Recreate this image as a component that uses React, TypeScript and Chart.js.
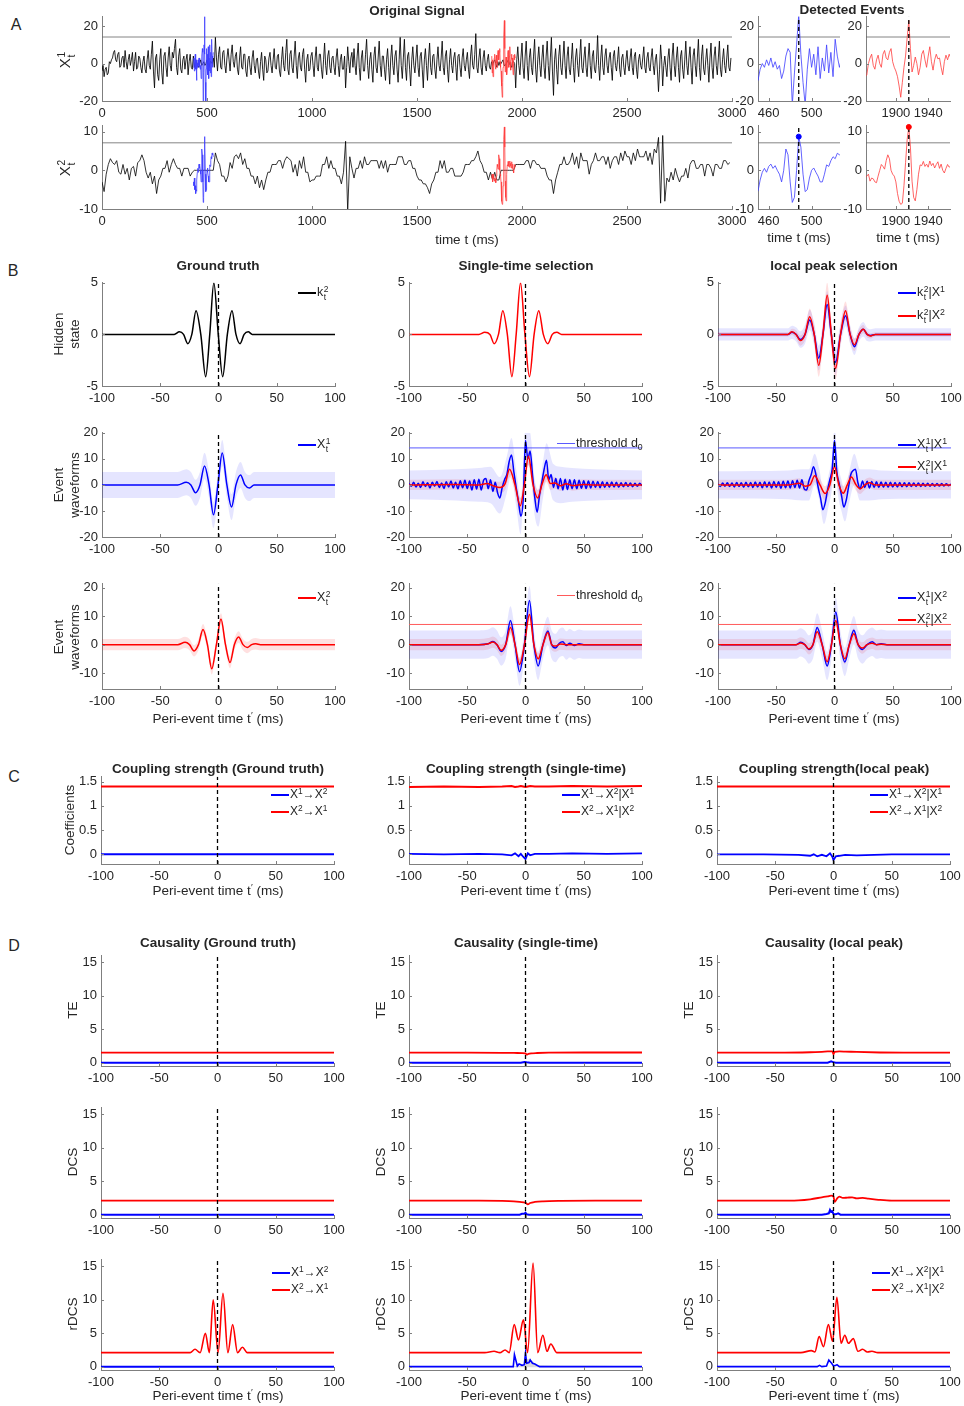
import React, { useEffect, useRef } from 'react';
import { Chart, registerables } from 'chart.js';
Chart.register(...registerables);

const FONT = '"Liberation Sans", Arial, Helvetica, sans-serif';
const AXIS = '#7f7f7f';
const TXT = '#262626';
const BLUE = '#0000ff';
const RED = '#ff0000';
const BLUE_A = '#3c3cff';
const RED_A = '#ff3c3c';
const BLUE_BAND = 'rgba(0,0,255,0.10)';
const RED_BAND = 'rgba(255,0,0,0.12)';
const TITLE_SIZE = 13.5;
const LABEL_SIZE = 13.5;
const TICK_SIZE = 13;

// ---------------- Panel A data ----------------
const sigT1 = Array.from({ length: 600 }, (_, i) => i * 5);
const x1Signal = [
  -4, -1, -7, -3, -2, -6, -5, 1, 0, 2, 3, 6, 7, 2, 1, 5, 6, -2, -1, 3,
  4, -2, 7, 1, -3, 2, 5, -1, 2, 6, -4, 1, 6, -3, -2, 4, 3, -2, -5, 1,
  4, -3, -5, 2, 7, -1, -3, 5, 12, -4, -13, 3, 5, -6, -9, 2, 8, -5, -11, 4,
  6, -2, -7, 3, 9, -1, -4, 6, 3, 8, 13, -2, -6, 4, 8, -3, -5, 2, 4, -3,
  2, 5, -6, 1, 5, -2, -3, 4, -2, 1, 1, -1, -2, 0, 2, -1, 0, 1, -1, 0,
  2, -1, -2, 1, 1, 0, 3, -2, 14, 3, -4, 5, 9, -2, -3, 6, 7, -1, -5, 3,
  8, 2, -4, 5, 10, 1, -2, 4, 6, -3, -6, 3, 9, -2, -3, 5, 5, -4, -7, 2,
  4, -2, -6, 3, 7, -1, -5, 2, 3, -4, -8, 1, 6, -3, -9, 4, 2, -5, -4, 3,
  6, -1, -5, 2, 8, -2, -3, 4, 5, -4, -7, 2, 9, -1, -4, 6, 13, -3, -6, 5,
  7, -2, -5, 4, 12, -1, -8, 3, 6, -2, -4, 5, 8, -3, -10, 2, 5, -4, -3, 4,
  6, -1, -7, 3, 9, -2, -4, 5, 5, -3, -8, 2, 11, -1, -6, 4, 7, -2, -5, 3,
  4, -2, -6, 3, 8, -1, -7, 2, 5, -3, -3, 4, -13, -2, 9, 1, -5, 3, 6, -2,
  8, -1, -6, 4, 11, -2, -9, 3, 7, -4, -4, 5, 13, -1, -8, 2, 6, -3, -10, 4,
  9, -2, -5, 3, 12, -1, -7, 4, 4, -3, -9, 2, 8, -2, -11, 3, 10, -1, -6, 4,
  7, -3, -10, 2, 14, -1, -8, 3, 13, -2, -9, 4, 6, -3, -12, 2, 9, -1, -5, 3,
  10, -2, -7, 4, 6, -3, -13, 2, 8, -1, -9, 3, 11, -2, -6, 4, 5, -3, -8, 2,
  9, -1, -4, 3, 12, -2, -6, 4, 7, -3, -10, 2, 8, -1, -5, 3, 6, -2, -9, 4,
  5, -2, -7, 3, 8, -1, -4, 2, 6, -3, -8, 4, 10, -1, -3, 5, 16, -2, -5, 3,
  8, -2, -6, 3, 7, -1, -4, 2, 5, -2, -3, 1, -1, 1, 2, 0, -2, 1, -1, 1,
  0, 1, 2, -1, -1, 0, 1, 2, 0, -1, -2, 1, 1, 0, -13, 2, 9, -1, -6, 3,
  11, -2, -8, 4, 12, -1, -9, 3, 8, -2, -6, 4, 13, -3, -10, 2, 9, -1, -7, 3,
  10, -2, -8, 4, 12, -1, -9, 3, 14, -4, -17, 2, 8, -3, -11, 4, 10, -2, -6, 3,
  12, -1, -8, 4, 9, -3, -6, 2, 11, -2, -10, 3, 8, -1, -7, 4, 13, -2, -5, 3,
  9, -2, -7, 3, 11, -1, -8, 4, 7, -3, -5, 2, 15, -1, -9, 3, 10, -2, -6, 4,
  8, -1, -5, 3, 6, -2, -9, 4, 7, -1, -4, 2, 9, -3, -7, 3, 5, -2, -6, 2,
  7, -1, -4, 3, 8, -2, -6, 4, 6, -3, -8, 2, 5, -1, -3, 3, 9, -2, -5, 3,
  6, -2, -4, 3, 8, -1, -6, 2, 5, -4, -15, -3, 10, 2, -12, -1, 4, -2, -7, 3,
  8, -2, -9, 4, 11, -1, -7, 3, 9, -2, -10, 4, 7, -3, -8, 2, 12, -1, -6, 3,
  9, -2, -11, 4, 8, -1, -7, 3, 13, -2, -9, 4, 10, -3, -6, 2, 8, -1, -10, 3,
  11, -2, -8, 4, 9, -1, -6, 3, 12, -3, -7, 2, 8, -1, -5, 3, 10, -2, -4, 3,
];
const sigT2 = Array.from({ length: 300 }, (_, i) => i * 10);
const x2Signal = [
  -3, -5.5, -1, 1.5, 3, 2, 1.5, 2.5, -0.5, -1, 1.5, -1, 0.5, -2.5, 0.5, 1, -1.5, 2, 2.5, 4,
  2.5, -0.5, -2, -0.5, -3.5, -1.5, -6, -2.5, -1.5, 0.5, 0.5, 2.5, -0.5, 1.5, 3, 1.5, 0.5, 0.5, -1.5, 0.5,
  0.5, 0.5, -1.5, -0.5, 0, 0, 0, 0, 0, 0, 0, 0, 0, 0, 4.5, 2.5, 1.5, -1.5, -1.5, -3,
  -1.5, 2, 0.5, 3.5, 4, 3, 4.5, 1.5, 3, 0.5, 0.5, -1.5, -1.5, -3.5, -1.5, -4.5, -2.5, -5, -2.5, -0.5,
  -0.5, 1.5, 1.5, 1.5, 2.5, 2.5, 0.5, 2.5, 3.5, 3, 2.5, -0.5, 1.5, -1.5, 2.5, 0.5, 3.5, -0.5, -0.5, -3,
  -2.5, -2.5, -1.5, -1.5, -1.5, 1.5, 1.5, 3.5, 0.5, 2.5, 0.5, 0.5, -1.5, -1.5, -3.5, -0.5, 7.5, -10.5, 3.5, 0.5,
  -2, 0.5, 0.5, 2.5, 0.5, 3.5, 1.5, 1.5, 2.5, 2.5, 2.5, 2.5, 0.5, 2.5, 0.5, 2.5, -0.5, 1.5, 1.5, 1.5,
  1.5, 3.5, 3.5, 3.5, 1.5, 1.5, 2.5, 2.5, 0.5, 0.5, -1.5, -2.5, -2.5, -3.5, -3.5, -4.5, -6, -3.5, -2.5, -0.5,
  -0.5, 2.5, 0.5, 2.5, -0.5, -0.5, 0.5, 0.5, -1.5, -1.5, -1.5, -1.5, -0.5, 1.5, 1.5, 1.5, 2.5, 2.5, 3.5, 5,
  2.5, 1.5, -0.5, -0.5, -2.5, -0.5, -2.5, -0.5, -2.5, -2.5, 0, 0, 0, 0, 0, 0, 0, 1.5, 1.5, 1.5,
  1.5, 1.5, 2.5, 2.5, 0.5, 2.5, 2.5, 1.5, 1.5, 0.5, 0.5, 0.5, -1.5, -2.5, -2.5, -6, -2.5, -0.5, 1.5, 1.5,
  3.5, 1.5, 1.5, 2.5, 4.5, 1.5, 3.5, 0.5, 4.5, 2.5, 2.5, 2.5, -1, 1.5, 2.5, 4.5, 2.5, 2.5, 3.5, 3.5,
  1.5, 3.5, 0.5, 2.5, 3.5, 3.5, 1.5, 4.5, 2.5, 5, 3.5, 3.5, 1.5, 4.5, 2.5, 5.5, 3.5, 3.5, 3.5, 5,
  2.5, 4.5, 1.5, 5.5, 4.5, 8.5, -8.5, 9, -8, -2, -3, -0.5, -2.5, 0.5, -1.5, -3, -1.5, -1.5, 0.5, -2,
  1.5, 2.5, 2.5, 0.5, 0.5, 1.5, 1.5, -1.5, 1.5, 1.5, 0.5, -1.5, 1.5, 1.5, 0.5, 0.5, 2.5, 2.5, 1.5, 2,
];
const blueEvT = Array.from({ length: 48 }, (_, i) => 436 + 2 * i);
const blueX1 = [-2, 3, -4, 1, 5, -3, 2, -9, -3, 0, -2, 2, -1, 3, -2, 1, -3, -1, -8, -4, 4, 8, 6, -22, -5, 10, 26, 5, -10, -22, -3, 8, -2, 5, -6, 9, -8, 3, -4, 10, -5, 6, -7, 13, 4, -2, 3, 6];
const blueX2 = [-3, -4, -2, -5, -4, -6, -5, -5.4, -2.5, -0.5, 0.5, -0.5, 1, 1.6, 0.5, 1.2, 0, -1, -3, 0, 5.5, 4, -3, -8.3, -7, 0, 8.7, 6, -1, -5.5, -5, -2, 0, 0.6, -0.5, -1.5, -3, -3, -1, 1.4, 1, 2.5, 3.5, 3, 4.4, 4, 4.5, 3.5];
const redEvT = Array.from({ length: 57 }, (_, i) => 1856 + 2 * i);
const redX1 = [4, -5, 2, -7, -6, 0, 3, 5, -1, -3, 2, 4.5, 0, -2, 5, 7, 3, 2, 6, 8, 1, -2, -4, -7, -12, -18, -10, -2, 4, 14, 23, 8, -4.5, -1, 3.5, 0, -6, -2, 5, 7, 2, -2, 4, 9, 1, -3.5, 2, 5, 2.5, 3, -2, -6, 1, 4.5, 2, 5, 3];
const redX2 = [-2, -1, -3, -2, -1.5, -1, -2.8, -2, -2.2, -3, -3.2, -1.5, 0, 1.5, 1, 0.3, 2.5, 4, 3, 0, -1, -1.5, -3, -6, -8, -8.8, -8.5, -4, 2, 8, 11.2, 6, -2.8, -7, -7.9, -5, -1, 1.4, 1.2, 2.3, 1, 1.6, 0.8, 2.4, 1.2, 1.8, 0.6, 1.5, 2.2, 0.5, 1.6, 0, -0.7, 0.5, 1.5, 0.8, 1.2];
const eventTimes = [488, 1916];
const eventPeaksX2 = [8.7, 11.2];
const thrX1 = 14.2;
const thrX2 = 7.1;

// ---------------- Panel B data ----------------
const periTicks = [-100, -50, 0, 50, 100];
const grid2 = Array.from({ length: 101 }, (_, i) => -100 + 2 * i);

const gtHidT = [-100, -38, -33.6, -30, -26.4, -22.9, -19.3, -15.2, -11, -7.5, -4, -0.2, 3.6, 7.6, 11.6, 15, 18.5, 22, 25.5, 29, 33, 100];
const gtHidY = [0, 0, 0.25, 0, -0.9, 0, 2.3, 0, -4.1, 0, 5, 0, -4.1, 0, 2.3, 0, -0.9, 0, 0.25, 0, 0, 0];

const stHidT = [-100, -40, -35, -30.5, -26.9, -23.2, -19.5, -15.6, -11.7, -8, -4.3, -0.5, 3.4, 7.4, 11.4, 15.3, 19.2, 23, 26.9, 31, 35, 100];
const stHidY = [0, 0, 0.2, 0, -0.9, 0, 2.3, 0, -4.1, 0, 5, 0, -4.1, 0, 2.3, 0, -0.9, 0, 0.2, 0, 0, 0];

const lpHidT = [-100, -40, -36.5, -33, -29.3, -25.3, -21.3, -17.4, -13.5, -9.9, -6.3, -2.7, 0.9, 5.2, 9.5, 13.4, 17.2, 21, 24.7, 28, 31, 35, 100];
const lpHid1Y = [0, 0, 0.2, 0, -0.5, 0, 1.4, 0, -2.3, 0, 2.9, 0, -2.7, 0, 1.8, 0, -1.2, 0, 0.5, 0, -0.1, 0, 0];
const lpHid2Y = [0, 0, 0.25, 0, -0.6, 0, 1.7, 0, -3.0, 0, 3.8, 0, -3.3, 0, 2.3, 0, -1.0, 0, 0.5, 0, -0.15, 0, 0];
const lpHid1Sd = [0.6, 0.6, 0.65, 0.7, 0.8, 0.9, 1, 1.1, 1.2, 1.2, 1.3, 1.2, 1.2, 1.1, 1, 0.9, 0.8, 0.7, 0.7, 0.65, 0.6, 0.6, 0.6];
const lpHid2Sd = [0.2, 0.2, 0.3, 0.4, 0.5, 0.6, 0.8, 0.9, 1.1, 1.1, 1.2, 1.1, 1.1, 1, 0.9, 0.8, 0.6, 0.5, 0.4, 0.3, 0.25, 0.2, 0.2];

const gtX1T = [-100, -35, -27.7, -23.7, -19.7, -15.9, -12, -8.1, -4.3, -0.5, 3.2, 7.2, 11.2, 15, 18.9, 22.7, 26.6, 30.5, 35, 100];
const gtX1Y = [0, 0, 1, 0, -3, 0, 7.3, 0, -11.5, 0, 12.2, 0, -8.5, 0, 3.8, 0, -1.2, 0, 0, 0];
const gtX1Sd = 5;

const stX1Y = [
  0.5, -0.5, 1, -0.8, 0.6, -1, 1.2, -0.6, 0.8, -1.2, 1, -0.5, 1.3, -1, 0.7, -1.4, 1.2, -0.8, 1.5, -1.2,
  1, -1.5, 1.6, -1.1, 1.8, -1.4, 1.5, -2, 2, -1.6,
  2.2, -2, 1.8, 2.5, -1.5, 2, -2.5, 1, -3, -5, -1, 2, 4, 9, 11.5, 5, -1, -6.5, -12, -6,
  17, 10, 13, 4, -5, -10.5, -4, 1, 6, 9.5, 2, 4, -1, 2.5, -1.5, 2.5, -2, 2.2, -1.8, 2,
  -1.5, 2, -1.5, 1.8, -1.3, 1.6, -1.4, 1.5, -1.2, 1.4, -1, 1.3, -1.1, 1.2, -1, 1, -0.9, 1.1, -0.8, 1,
  -0.9, 0.8, -0.7, 0.9, -0.6, 0.7, -0.7, 0.6, -0.5, 0.6, -0.3,
];
const stX1BandT = [-100, -60, -40, -30, -22, -16, -12, -8, -4, 0, 4, 8, 11, 15, 18, 24, 30, 40, 60, 100];
const stX1BandMid = [0, 0, 0, 0, -4, 4, 11, -1, -12, 15, 13, -5, -9, 2, 9, 1, 0, 0, 0, 0];
const stX1BandSd = [5.5, 6, 6.5, 7, 7, 7, 7, 7, 7, 7, 7, 7, 7, 7, 7, 7, 7, 6.5, 6, 5.5];
const stX2T = [-100, -60, -40, -33, -28, -22, -17.5, -13.7, -9, -4.5, -1, 2.5, 6.5, 10.5, 14, 17.7, 21.5, 25, 30, 35, 40, 50, 60, 100];
const stX2Y = [0, 0.2, 0, 0.5, -0.3, -1, 0.5, 6, 0, -8, 0, 11, 0, -5, 0, 3.9, 0.5, 0.7, -0.3, 0.4, -0.2, 0.2, 0, 0];
const stX2Sd = [2, 2, 2, 2, 2, 2.2, 2.5, 3, 3, 3, 3, 3.5, 3.5, 3, 3, 2.8, 2.5, 2.2, 2, 2, 2, 2, 2, 2];

const lpX1Y = [
  0.3, -0.6, 0.7, -0.5, 0.8, -0.6, 0.7, -0.8, 0.9, -0.6, 0.8, -0.9, 1, -0.7, 0.9, -1, 1.1, -0.8, 1, -1.1,
  1.2, -0.9, 1.1, -1.2, 1.3, -1, 1.2, -1.3, 1.4, -1.1,
  1.5, -1.2, 1.6, -1, 1.8, -1.2, 2, -1.5, -2, 1.5, 4, 7, 4, -1, -5, -9.5, -7, -2, 2, 6,
  17, 5, 0.5, -4, -8.5, -6, -1, 4, 5.5, 6, 1, -1.5, 1.5, -1, 1.4, -1.2, 1.3, -1, 1.2, -1,
  1.1, -0.9, 1, -0.9, 1, -0.8, 0.9, -0.8, 0.9, -0.7, 0.8, -0.7, 0.8, -0.6, 0.7, -0.6, 0.7, -0.6, 0.6, -0.5,
  0.6, -0.5, 0.5, -0.5, 0.5, -0.4, 0.5, -0.4, 0.4, -0.3, 0.3,
];
const lpX1BandT = [-100, -40, -28, -22, -17, -13, -9, -5, -2, 0, 3, 6, 9, 13, 17, 22, 30, 40, 100];
const lpX1BandMid = [0, 0, 0, 0, 6, 0, -9, -2, 5, 16, 2, -4, -8, 0, 6, 0, 0, 0, 0];
const lpX1BandSd = [5.2, 5.5, 6, 6, 6, 6, 6, 6, 6, 6, 6, 6, 6, 6, 6, 6, 6, 5.5, 5.2];
const lpX2T = [-100, -40, -30, -25, -21, -17, -12.5, -8, -4, 0, 3.8, 7.5, 11, 14.5, 18.5, 22, 26, 30, 35, 100];
const lpX2Y = [0, 0, 0.6, -0.5, 0, 3.5, 0, -3.3, 0, 7, 0, -3.2, 0, 3, 0, -1.5, 0, 0.8, 0, 0];
const lpX2Sd = [2, 2, 2, 2, 2.2, 2.5, 2.5, 2.8, 2.8, 3, 2.8, 2.8, 2.5, 2.5, 2.2, 2, 2, 2, 2, 2];

const gtX2T = [-100, -35, -28.7, -24.9, -21, -17.2, -13.3, -9.5, -5.8, -1.8, 2.1, 6, 9.9, 13.6, 17.3, 21, 24.7, 28.4, 32, 36, 100];
const gtX2Y = [0, 0, 0.8, 0, -2.2, 0, 5.3, 0, -8.5, 0, 9, 0, -6.3, 0, 2.7, 0, -1, 0, 0.3, 0, 0];
const gtX2Sd = 2;

const stB3X1T = [-100, -40, -32, -28, -24.5, -20.9, -17, -12.9, -9, -5.1, -0.9, 3.4, 7.2, 10.9, 15, 19.2, 22.5, 25.7, 29, 32, 35, 38, 42, 46, 50, 100];
const stB3X1Y = [0, 0, 0.3, 1.1, 0, -2.4, 0, 8.5, 0, -9.5, 0, 15.5, 0, -7.5, 0, 4.8, 0, -1.2, 0.5, 1, -0.3, 0.5, -0.3, 0.3, 0, 0];
const stB3X2T = [-100, -40, -32, -28, -24.5, -20.9, -17, -12.9, -9, -5.1, -0.9, 3.4, 7.2, 10.9, 15, 19.2, 22.5, 25.7, 30, 35, 100];
const stB3X2Y = [0, 0, 0.3, 0.9, 0, -2, 0, 6, 0, -7, 0, 10.6, 0, -5, 0, 4.3, 0, -0.5, 0.2, 0, 0];
const b3X1Sd = 5;
const b3X2Sd = 2;

const lpB3T = [-100, -40, -33, -29, -25.5, -22, -18.5, -14.9, -10.6, -6.3, -2.6, 1.1, 5, 8.9, 12.7, 16.6, 20.3, 24, 28, 32.4, 36, 40, 45, 100];
const lpB3X1Y = [0, 0, 0, 0.8, 0, -1.7, 0, 6, 0, -7.5, 0, 11.5, 0, -6.1, 0, 5.1, 0, -1.7, 0, 1, 0, 0.3, 0, 0];
const lpB3X2Y = [0, 0, 0, 0.6, 0, -1.5, 0, 4.5, 0, -6, 0, 8.5, 0, -5, 0, 3.8, 0, -1.2, 0, 0.5, 0, 0.1, 0, 0];

// ---------------- Panel C data ----------------
const flatT = [-100, 100];
const cGtX12 = [0, 0];
const cGtX21 = [1.4, 1.4];
const cStT = [-100, -70, -40, -20, -12, -9, -6, -4, -2, 0, 2, 4, 8, 20, 40, 70, 100];
const cStX12 = [0.01, 0, 0.01, 0, -0.02, 0.02, -0.04, 0.01, -0.05, -0.1, 0.02, -0.02, 0.01, 0.01, 0.02, 0.01, 0.02];
const cStX21 = [1.39, 1.4, 1.39, 1.4, 1.41, 1.39, 1.4, 1.41, 1.4, 1.39, 1.4, 1.41, 1.4, 1.4, 1.41, 1.4, 1.41];
const cLpT = [-100, -60, -30, -20, -17, -14, -10, -6, -3, -1, 0, 2, 5, 10, 20, 50, 100];
const cLpX12 = [0, 0, -0.01, -0.03, 0, -0.04, -0.01, -0.04, 0.02, -0.05, -0.12, -0.04, -0.03, -0.01, -0.02, 0, 0];
const cLpX21 = [1.4, 1.4, 1.4, 1.4, 1.4, 1.4, 1.4, 1.4, 1.4, 1.4, 1.4, 1.4, 1.4, 1.4, 1.4, 1.4, 1.4];

// ---------------- Panel D data ----------------
const teGtX12 = [0, 0];
const teGtX21 = [1.5, 1.5];
const teStT = [-100, -50, -20, -10, -3, 0, 1, 2.5, 5, 10, 20, 50, 100];
const teStX21 = [1.5, 1.5, 1.48, 1.46, 1.43, 1.4, 1.2, 1.32, 1.4, 1.45, 1.5, 1.52, 1.52];
const teStBT = [-100, -4, -1, 1, 4, 100];
const teStX12 = [0, 0, 0.1, 0.05, 0, 0];
const teLpT = [-100, -50, -20, -10, -5, -1, 0, 1, 5, 10, 20, 40, 60, 100];
const teLpX21 = [1.5, 1.5, 1.56, 1.63, 1.68, 1.7, 1.25, 1.62, 1.68, 1.66, 1.6, 1.52, 1.5, 1.5];
const teLpBT = [-100, -5, -2, 0, 2, 100];
const teLpX12 = [0, 0, 0.2, 0.05, 0, 0];

const dcsGtX12 = [0, 0];
const dcsGtX21 = [2.1, 2.1];
const dcsStT = [-100, -40, -20, -10, -5, 0, 2, 4, 8, 15, 30, 60, 100];
const dcsStX21 = [2.1, 2.1, 2.05, 1.98, 1.9, 1.78, 1.55, 1.75, 1.9, 2, 2.07, 2.1, 2.1];
const dcsStBT = [-100, -5, -3, -1, 0, 1, 3, 100];
const dcsStX12 = [0, 0, 0.12, 0.15, 0.3, 0.05, 0, 0];
const dcsLpT = [-100, -50, -30, -20, -10, -5, -2, 0, 1, 3, 5, 8, 12, 16, 20, 25, 30, 35, 40, 50, 60, 100];
const dcsLpX21 = [2.1, 2.1, 2.15, 2.3, 2.6, 2.75, 2.85, 2.7, 1.9, 2.4, 2.7, 2.5, 2.55, 2.6, 2.45, 2.5, 2.4, 2.3, 2.2, 2.1, 2.1, 2.1];
const dcsLpBT = [-100, -10, -6, -4, -3, -2, -1, 0, 2, 4, 6, 100];
const dcsLpX12 = [0, 0, 0.1, 0.2, 0.7, 0.4, 0.5, 0.1, 0.05, 0.2, 0, 0];

const rdGtT = [-100, -30, -23.5, -19.3, -14.9, -10.4, -7, -3.7, 0.5, 4.7, 8.9, 13, 17.2, 21.4, 25.5, 30, 100];
const rdGtX21 = [2.1, 2.1, 2.1, 2.6, 2.1, 5, 2.1, 10, 2.1, 11, 2.1, 6.3, 2.1, 2.9, 2.1, 2.1, 2.1];
const rdGtX12 = [0, 0];
const rdStT = [-100, -35, -27, -22, -17.5, -14, -9.7, -6, -1.8, 1.8, 6.5, 10.5, 14.9, 18.5, 21.7, 27, 35, 100];
const rdStX21 = [2.1, 2.1, 2.3, 2.1, 2.5, 2.1, 6.3, 4, 7, 2.1, 15.5, 2.1, 4.7, 2.3, 3.4, 2.1, 2.1, 2.1];
const rdStBT = [-100, -14, -10.5, -9.5, -7, -5.5, -3, -1, 0, 1, 3, 4, 6, 8, 12, 100];
const rdStX12 = [0, 0, 0, 1.8, 0.1, 0.4, 0.2, 0.3, 2, 0.5, 0.6, 1, 0.5, 0.4, 0, 0];
const rdStGrayT = [-100, -4, -1, 1, 3, 6, 10, 100];
const rdStGrayUp = [0.1, 0.1, 0.6, 1.2, 1.1, 0.8, 0.2, 0.1];
const rdStGrayLo = [-0.1, -0.1, -0.1, -0.1, -0.1, -0.1, -0.1, -0.1];
const rdLpT = [-100, -28, -19, -16, -12.3, -8.6, -4.4, -0.8, 2.9, 6.5, 9.7, 12.8, 17, 21, 25, 29, 33, 38, 100];
const rdLpX21 = [2.1, 2.1, 2.4, 2.2, 4.5, 3, 6.3, 3.8, 10.4, 3.5, 4.7, 3.5, 4.2, 2.3, 2.6, 2.2, 2.3, 2.1, 2.1];
const rdLpBT = [-100, -14, -12, -10, -6, -4, -2, 0, 2, 3, 5, 100];
const rdLpX12 = [0, 0, 0.2, 0, 0.1, 1, 0.6, 0.1, 0.2, 0.3, 0, 0];

const dTicks = [0, 5, 10, 15];

// ---------------- helpers ----------------
const P = (xs: number[], ys: number[]) => xs.map((x, i) => ({ x, y: ys[i] }));
const sdAt = (sd: number | number[], i: number) => (Array.isArray(sd) ? sd[i] : sd);
const line = (data: any[], color: string, width: number, extra: any = {}) => ({
  data, borderColor: color, borderWidth: width, pointRadius: 0, fill: false, tension: 0, order: 1, ...extra,
});
const smooth = (data: any[], color: string, width: number, extra: any = {}) =>
  line(data, color, width, { cubicInterpolationMode: 'monotone', ...extra });
const band = (xs: number[], ys: number[], sd: number | number[], color: string) => [
  { data: P(xs, ys.map((v, i) => v + sdAt(sd, i))), borderWidth: 0, borderColor: 'rgba(0,0,0,0)', backgroundColor: color, pointRadius: 0, fill: '+1', cubicInterpolationMode: 'monotone', order: 10 },
  { data: P(xs, ys.map((v, i) => v - sdAt(sd, i))), borderWidth: 0, borderColor: 'rgba(0,0,0,0)', pointRadius: 0, fill: false, cubicInterpolationMode: 'monotone', order: 10 },
];
const dash = (x: number, y0: number, y1: number) => line(P([x, x], [y0, y1]), '#000', 1.3, { borderDash: [4, 3], order: 0 });
const hline = (y: number, x0: number, x1: number, color: string, w: number) => line(P([x0, x1], [y, y]), color, w, { order: 5 });
const dot = (x: number, y: number, color: string) => ({
  data: [{ x, y }], showLine: false, pointRadius: 2.5, pointBackgroundColor: color, pointBorderColor: color, order: 0, clip: false,
});

const innerTicks = {
  id: 'innerTicks',
  afterDraw(chart: any) {
    const { ctx, chartArea, scales } = chart;
    ctx.save();
    ctx.strokeStyle = AXIS;
    ctx.lineWidth = 1;
    for (const t of scales.x.ticks) {
      const px = Math.round(scales.x.getPixelForValue(t.value)) + 0.5;
      ctx.beginPath(); ctx.moveTo(px, chartArea.bottom); ctx.lineTo(px, chartArea.bottom - 3); ctx.stroke();
    }
    for (const t of scales.y.ticks) {
      const py = Math.round(scales.y.getPixelForValue(t.value)) + 0.5;
      ctx.beginPath(); ctx.moveTo(chartArea.left, py); ctx.lineTo(chartArea.left + 3, py); ctx.stroke();
    }
    ctx.restore();
  },
};

const PL = 46, PT = 10, PR = 24, PB = 26;
type Cfg = { x: number; y: number; w: number; h: number; xr: number[]; yr: number[]; xt: number[]; yt: number[]; ds: () => any[] };

function Plot({ c }: { c: Cfg }) {
  const ref = useRef<HTMLCanvasElement>(null);
  useEffect(() => {
    const tickFont = { family: FONT, size: TICK_SIZE };
    const chart = new Chart(ref.current as HTMLCanvasElement, {
      type: 'line',
      data: { datasets: c.ds() },
      options: {
        animation: false,
        responsive: false,
        devicePixelRatio: 1,
        events: [],
        layout: { padding: { left: 0, top: PT, right: PR, bottom: 0 } },
        plugins: { legend: { display: false }, tooltip: { enabled: false } },
        scales: {
          x: {
            type: 'linear', min: c.xr[0], max: c.xr[1],
            grid: { display: false, drawTicks: false }, border: { display: true, color: AXIS, width: 1 },
            ticks: { font: tickFont, color: TXT, padding: 5, maxRotation: 0, autoSkip: false, callback: (v: any) => String(v) },
            afterBuildTicks: (s: any) => { s.ticks = c.xt.map((v) => ({ value: v })); },
            afterFit: (s: any) => { s.height = PB; },
          },
          y: {
            type: 'linear', min: c.yr[0], max: c.yr[1],
            grid: { display: false, drawTicks: false }, border: { display: true, color: AXIS, width: 1 },
            ticks: { font: tickFont, color: TXT, padding: 4, autoSkip: false, callback: (v: any) => String(v) },
            afterBuildTicks: (s: any) => { s.ticks = c.yt.map((v) => ({ value: v })); },
            afterFit: (s: any) => { s.width = PL; },
          },
        },
      } as any,
      plugins: [innerTicks],
    });
    return () => chart.destroy();
  }, []);
  const W = c.w + PL + PR, H = c.h + PT + PB;
  return <canvas ref={ref} width={W} height={H} style={{ position: 'absolute', left: c.x - PL, top: c.y - PT, width: W, height: H }} />;
}

// ---------------- text helpers ----------------
function Tx({ x, y, size = LABEL_SIZE, bold = false, anchor = 'middle', rotate = false, children }: any) {
  const tx = anchor === 'middle' ? '-50%' : anchor === 'end' ? '-100%' : '0';
  return (
    <div style={{
      position: 'absolute', left: x, top: y,
      transform: rotate ? 'translate(-50%,-50%) rotate(-90deg)' : `translate(${tx},-50%)`,
      fontFamily: FONT, fontSize: size, fontWeight: bold ? 'bold' : 'normal', color: TXT,
      whiteSpace: 'nowrap', lineHeight: 1.15, textAlign: 'center',
    }}>{children}</div>
  );
}
const Sup = ({ c }: any) => <span style={{ fontSize: '0.7em', position: 'relative', top: '-0.5em' }}>{c}</span>;
const Sub = ({ c }: any) => <span style={{ fontSize: '0.7em', position: 'relative', top: '0.3em' }}>{c}</span>;
const SS = ({ sup, sub }: any) => (
  <span style={{ display: 'inline-flex', flexDirection: 'column', fontSize: '0.68em', lineHeight: '0.95em', verticalAlign: '0.45em', marginLeft: '0.06em', textAlign: 'left' }}>
    <span>{sup}</span><span>{sub}</span>
  </span>
);
function Leg({ x, y, dy = 22, size = 12.5, items }: any) {
  return (
    <>
      {items.map((it: any, i: number) => (
        <React.Fragment key={i}>
          <div style={{ position: 'absolute', left: x, top: y + i * dy - it.w / 2, width: 18, height: it.w, background: it.color }} />
          <Tx x={x + 19} y={y + i * dy} size={size} anchor="start">{it.label}</Tx>
        </React.Fragment>
      ))}
    </>
  );
}
const Arrow = ({ a, b, cond }: any) => (
  <span>X<Sup c={a} />→X<Sup c={b} />{cond ? <>|X<Sup c={cond} /></> : null}</span>
);
const PeriLabel = () => <span>Peri-event time t<Sup c="′" /> (ms)</span>;

// ---------------- layout ----------------
const colX = [102, 409, 718];
const colXC = [101, 409, 717];
const sigTicks = [0, 500, 1000, 1500, 2000, 2500, 3000];

const panels: Cfg[] = [
  // A
  { x: 102, y: 15, w: 630, h: 86, xr: [0, 3000], yr: [-20, 25], xt: sigTicks, yt: [-20, 0, 20],
    ds: () => [line(P(blueEvT, blueX1), BLUE_A, 0.8, { order: 0 }), line(P(redEvT, redX1), RED_A, 0.8, { order: 0 }), line(P(sigT1, x1Signal), '#000', 0.85), hline(thrX1, 0, 3000, '#666', 0.8)] },
  { x: 102, y: 124, w: 630, h: 85, xr: [0, 3000], yr: [-10, 11.5], xt: sigTicks, yt: [-10, 0, 10],
    ds: () => [line(P(blueEvT, blueX2), BLUE_A, 0.8, { order: 0 }), line(P(redEvT, redX2), RED_A, 0.8, { order: 0 }), line(P(sigT2, x2Signal), '#000', 0.8), hline(thrX2, 0, 3000, '#666', 0.8)] },
  { x: 758, y: 15, w: 82, h: 86, xr: [450, 526.5], yr: [-20, 25], xt: [460, 500], yt: [-20, 0, 20],
    ds: () => [line(P(blueEvT, blueX1), BLUE_A, 0.8), hline(thrX1, 450, 526.5, '#666', 0.8), dash(eventTimes[0], -20, 25)] },
  { x: 866, y: 15, w: 84, h: 86, xr: [1863, 1967], yr: [-20, 25], xt: [1900, 1940], yt: [-20, 0, 20],
    ds: () => [line(P(redEvT, redX1), RED_A, 0.8), hline(thrX1, 1863, 1967, '#666', 0.8), dash(eventTimes[1], -20, 25)] },
  { x: 758, y: 124, w: 82, h: 85, xr: [450, 526.5], yr: [-10, 11.5], xt: [460, 500], yt: [-10, 0, 10],
    ds: () => [dot(eventTimes[0], eventPeaksX2[0], BLUE), line(P(blueEvT, blueX2), BLUE_A, 0.8), hline(thrX2, 450, 526.5, '#666', 0.8), dash(eventTimes[0], -10, 11.5)] },
  { x: 866, y: 124, w: 84, h: 85, xr: [1863, 1967], yr: [-10, 11.5], xt: [1900, 1940], yt: [-10, 0, 10],
    ds: () => [dot(eventTimes[1], eventPeaksX2[1], RED), line(P(redEvT, redX2), RED_A, 0.8), hline(thrX2, 1863, 1967, '#666', 0.8), dash(eventTimes[1], -10, 11.5)] },
  // B row 1
  { x: colX[0], y: 281, w: 233, h: 105, xr: [-100, 100], yr: [-5, 5], xt: periTicks, yt: [-5, 0, 5],
    ds: () => [dash(0, -5, 5), smooth(P(gtHidT, gtHidY), '#000', 1.5)] },
  { x: colX[1], y: 281, w: 233, h: 105, xr: [-100, 100], yr: [-5, 5], xt: periTicks, yt: [-5, 0, 5],
    ds: () => [dash(0, -5, 5), smooth(P(stHidT, stHidY), RED, 1.5)] },
  { x: colX[2], y: 281, w: 233, h: 105, xr: [-100, 100], yr: [-5, 5], xt: periTicks, yt: [-5, 0, 5],
    ds: () => [dash(0, -5, 5), smooth(P(lpHidT, lpHid2Y), RED, 1.5, { order: 1 }), smooth(P(lpHidT, lpHid1Y), BLUE, 1.5, { order: 2 }),
      ...band(lpHidT, lpHid1Y, lpHid1Sd, BLUE_BAND), ...band(lpHidT, lpHid2Y, lpHid2Sd, RED_BAND)] },
  // B row 2
  { x: colX[0], y: 431, w: 233, h: 106, xr: [-100, 100], yr: [-20, 20], xt: periTicks, yt: [-20, -10, 0, 10, 20],
    ds: () => [dash(0, -20, 20), smooth(P(gtX1T, gtX1Y), BLUE, 1.5), ...band(gtX1T, gtX1Y, gtX1Sd, BLUE_BAND)] },
  { x: colX[1], y: 431, w: 233, h: 106, xr: [-100, 100], yr: [-20, 20], xt: periTicks, yt: [-20, -10, 0, 10, 20],
    ds: () => [dash(0, -20, 20), smooth(P(stX2T, stX2Y), RED, 1.5, { order: 1 }), smooth(P(grid2, stX1Y), BLUE, 1.5, { order: 2 }),
      hline(thrX1, -100, 100, '#5a5aff', 1), ...band(stX1BandT, stX1BandMid, stX1BandSd, BLUE_BAND), ...band(stX2T, stX2Y, stX2Sd, RED_BAND)] },
  { x: colX[2], y: 431, w: 233, h: 106, xr: [-100, 100], yr: [-20, 20], xt: periTicks, yt: [-20, -10, 0, 10, 20],
    ds: () => [dash(0, -20, 20), smooth(P(lpX2T, lpX2Y), RED, 1.5, { order: 1 }), smooth(P(grid2, lpX1Y), BLUE, 1.5, { order: 2 }),
      hline(thrX1, -100, 100, '#5a5aff', 1), ...band(lpX1BandT, lpX1BandMid, lpX1BandSd, BLUE_BAND), ...band(lpX2T, lpX2Y, lpX2Sd, RED_BAND)] },
  // B row 3
  { x: colX[0], y: 582, w: 233, h: 107, xr: [-100, 100], yr: [-15.6, 21.4], xt: periTicks, yt: [-10, 0, 10, 20],
    ds: () => [dash(0, -15.6, 21.4), smooth(P(gtX2T, gtX2Y), RED, 1.5), ...band(gtX2T, gtX2Y, gtX2Sd, RED_BAND)] },
  { x: colX[1], y: 582, w: 233, h: 107, xr: [-100, 100], yr: [-15.6, 21.4], xt: periTicks, yt: [-10, 0, 10, 20],
    ds: () => [dash(0, -15.6, 21.4), smooth(P(stB3X2T, stB3X2Y), RED, 1.5, { order: 1 }), smooth(P(stB3X1T, stB3X1Y), BLUE, 1.5, { order: 2 }),
      hline(thrX2, -100, 100, '#ff5a5a', 1), ...band(stB3X1T, stB3X1Y, b3X1Sd, BLUE_BAND), ...band(stB3X2T, stB3X2Y, b3X2Sd, RED_BAND)] },
  { x: colX[2], y: 582, w: 233, h: 107, xr: [-100, 100], yr: [-15.6, 21.4], xt: periTicks, yt: [-10, 0, 10, 20],
    ds: () => [dash(0, -15.6, 21.4), smooth(P(lpB3T, lpB3X2Y), RED, 1.5, { order: 1 }), smooth(P(lpB3T, lpB3X1Y), BLUE, 1.5, { order: 2 }),
      hline(thrX2, -100, 100, '#ff5a5a', 1), ...band(lpB3T, lpB3X1Y, b3X1Sd, BLUE_BAND), ...band(lpB3T, lpB3X2Y, b3X2Sd, RED_BAND)] },
  // C
  { x: colXC[0], y: 775, w: 233, h: 89, xr: [-100, 100], yr: [-0.2, 1.6], xt: periTicks, yt: [0, 0.5, 1, 1.5],
    ds: () => [dash(0, -0.2, 1.6), line(P(flatT, cGtX21), RED, 2), line(P(flatT, cGtX12), BLUE, 2)] },
  { x: colXC[1], y: 775, w: 233, h: 89, xr: [-100, 100], yr: [-0.2, 1.6], xt: periTicks, yt: [0, 0.5, 1, 1.5],
    ds: () => [dash(0, -0.2, 1.6), line(P(cStT, cStX21), RED, 2), line(P(cStT, cStX12), BLUE, 1.8)] },
  { x: colXC[2], y: 775, w: 233, h: 89, xr: [-100, 100], yr: [-0.2, 1.6], xt: periTicks, yt: [0, 0.5, 1, 1.5],
    ds: () => [dash(0, -0.2, 1.6), line(P(cLpT, cLpX21), RED, 2), line(P(cLpT, cLpX12), BLUE, 1.8)] },
  // D row 1 TE
  { x: colXC[0], y: 954, w: 233, h: 112, xr: [-100, 100], yr: [-0.5, 16], xt: periTicks, yt: dTicks,
    ds: () => [dash(0, -0.5, 16), line(P(flatT, teGtX21), RED, 1.8), line(P(flatT, teGtX12), BLUE, 2)] },
  { x: colXC[1], y: 954, w: 233, h: 112, xr: [-100, 100], yr: [-0.5, 16], xt: periTicks, yt: dTicks,
    ds: () => [dash(0, -0.5, 16), smooth(P(teStT, teStX21), RED, 1.8), line(P(teStBT, teStX12), BLUE, 2)] },
  { x: colXC[2], y: 954, w: 233, h: 112, xr: [-100, 100], yr: [-0.5, 16], xt: periTicks, yt: dTicks,
    ds: () => [dash(0, -0.5, 16), smooth(P(teLpT, teLpX21), RED, 1.8), line(P(teLpBT, teLpX12), BLUE, 2)] },
  // D row 2 DCS
  { x: colXC[0], y: 1106, w: 233, h: 112, xr: [-100, 100], yr: [-0.5, 16], xt: periTicks, yt: dTicks,
    ds: () => [dash(0, -0.5, 16), line(P(flatT, dcsGtX21), RED, 1.8), line(P(flatT, dcsGtX12), BLUE, 2)] },
  { x: colXC[1], y: 1106, w: 233, h: 112, xr: [-100, 100], yr: [-0.5, 16], xt: periTicks, yt: dTicks,
    ds: () => [dash(0, -0.5, 16), smooth(P(dcsStT, dcsStX21), RED, 1.8), line(P(dcsStBT, dcsStX12), BLUE, 2)] },
  { x: colXC[2], y: 1106, w: 233, h: 112, xr: [-100, 100], yr: [-0.5, 16], xt: periTicks, yt: dTicks,
    ds: () => [dash(0, -0.5, 16), smooth(P(dcsLpT, dcsLpX21), RED, 1.8), line(P(dcsLpBT, dcsLpX12), BLUE, 2)] },
  // D row 3 rDCS
  { x: colXC[0], y: 1258, w: 233, h: 112, xr: [-100, 100], yr: [-0.5, 16], xt: periTicks, yt: dTicks,
    ds: () => [dash(0, -0.5, 16), smooth(P(rdGtT, rdGtX21), RED, 1.6), line(P(flatT, rdGtX12), BLUE, 2)] },
  { x: colXC[1], y: 1258, w: 233, h: 112, xr: [-100, 100], yr: [-0.5, 16], xt: periTicks, yt: dTicks,
    ds: () => [dash(0, -0.5, 16), smooth(P(rdStT, rdStX21), RED, 1.6), line(P(rdStBT, rdStX12), BLUE, 1.6),
      { data: P(rdStGrayT, rdStGrayUp), borderWidth: 0, borderColor: 'rgba(0,0,0,0)', backgroundColor: 'rgba(150,150,150,0.35)', pointRadius: 0, fill: '+1', cubicInterpolationMode: 'monotone', order: 10 },
      { data: P(rdStGrayT, rdStGrayLo), borderWidth: 0, borderColor: 'rgba(0,0,0,0)', pointRadius: 0, fill: false, order: 10 }] },
  { x: colXC[2], y: 1258, w: 233, h: 112, xr: [-100, 100], yr: [-0.5, 16], xt: periTicks, yt: dTicks,
    ds: () => [dash(0, -0.5, 16), smooth(P(rdLpT, rdLpX21), RED, 1.6), line(P(rdLpBT, rdLpX12), BLUE, 1.6)] },
];

export default function App() {
  const cx = [218, 526, 834];
  const ylx = [73, 381, 689];
  return (
    <div style={{ position: 'absolute', left: 0, top: 0, width: 964, height: 1406, overflow: 'hidden', background: '#fff' }}>
      {panels.map((c, i) => <Plot key={i} c={c} />)}

      {/* panel letters */}
      <Tx x={16} y={25} size={16}>A</Tx>
      <Tx x={13} y={271} size={16}>B</Tx>
      <Tx x={14} y={777} size={16}>C</Tx>
      <Tx x={14} y={946} size={16}>D</Tx>

      {/* Panel A text */}
      <Tx x={417} y={11} size={TITLE_SIZE} bold>Original Signal</Tx>
      <Tx x={852} y={10} size={TITLE_SIZE} bold>Detected Events</Tx>
      <Tx x={467} y={240}>time t (ms)</Tx>
      <Tx x={799} y={238}>time t (ms)</Tx>
      <Tx x={908} y={238}>time t (ms)</Tx>
      <Tx x={66} y={60} size={15} rotate>X<SS sup="1" sub="t" /></Tx>
      <Tx x={66} y={168} size={15} rotate>X<SS sup="2" sub="t" /></Tx>

      {/* Panel B text */}
      <Tx x={cx[0]} y={266} size={TITLE_SIZE} bold>Ground truth</Tx>
      <Tx x={cx[1]} y={266} size={TITLE_SIZE} bold>Single-time selection</Tx>
      <Tx x={cx[2]} y={266} size={TITLE_SIZE} bold>local peak selection</Tx>
      <Tx x={67} y={334} rotate>Hidden<br />state</Tx>
      <Tx x={67} y={485} rotate>Event<br />waveforms</Tx>
      <Tx x={67} y={637} rotate>Event<br />waveforms</Tx>
      {cx.map((x, i) => <Tx key={'bx' + i} x={x} y={719}><PeriLabel /></Tx>)}

      <Leg x={298} y={293} items={[{ color: '#000', w: 1.5, label: <span>k<SS sup="2" sub="t" /></span> }]} />
      <Leg x={898} y={293} dy={23} items={[
        { color: BLUE, w: 1.5, label: <span>k<SS sup="2" sub="t" />|X<Sup c="1" /></span> },
        { color: RED, w: 1.5, label: <span>k<SS sup="2" sub="t" />|X<Sup c="2" /></span> },
      ]} />
      <Leg x={298} y={445} items={[{ color: BLUE, w: 1.5, label: <span>X<SS sup="1" sub="t" /></span> }]} />
      <Leg x={557} y={443} items={[{ color: '#5a5aff', w: 1, label: <span>threshold d<Sub c="0" /></span> }]} />
      <Leg x={898} y={445} items={[
        { color: BLUE, w: 1.5, label: <span>X<SS sup="1" sub="t" />|X<Sup c="1" /></span> },
        { color: RED, w: 1.5, label: <span>X<SS sup="2" sub="t" />|X<Sup c="1" /></span> },
      ]} />
      <Leg x={298} y={598} items={[{ color: RED, w: 1.5, label: <span>X<SS sup="2" sub="t" /></span> }]} />
      <Leg x={557} y={595} items={[{ color: '#ff5a5a', w: 1, label: <span>threshold d<Sub c="0" /></span> }]} />
      <Leg x={898} y={598} items={[
        { color: BLUE, w: 1.5, label: <span>X<SS sup="1" sub="t" />|X<Sup c="2" /></span> },
        { color: RED, w: 1.5, label: <span>X<SS sup="2" sub="t" />|X<Sup c="2" /></span> },
      ]} />

      {/* Panel C text */}
      <Tx x={cx[0]} y={769} size={TITLE_SIZE} bold>Coupling strength (Ground truth)</Tx>
      <Tx x={cx[1]} y={769} size={TITLE_SIZE} bold>Coupling strength (single-time)</Tx>
      <Tx x={cx[2]} y={769} size={TITLE_SIZE} bold>Coupling strength(local peak)</Tx>
      <Tx x={70} y={820} rotate>Coefficients</Tx>
      {cx.map((x, i) => <Tx key={'cx' + i} x={x} y={891}><PeriLabel /></Tx>)}
      <Leg x={271} y={795} dy={17} size={12} items={[
        { color: BLUE, w: 1.5, label: <Arrow a="1" b="2" /> },
        { color: RED, w: 1.5, label: <Arrow a="2" b="1" /> },
      ]} />
      <Leg x={562} y={795} dy={17} size={12} items={[
        { color: BLUE, w: 1.5, label: <Arrow a="1" b="2" cond="1" /> },
        { color: RED, w: 1.5, label: <Arrow a="2" b="1" cond="2" /> },
      ]} />
      <Leg x={870} y={795} dy={17} size={12} items={[
        { color: BLUE, w: 1.5, label: <Arrow a="1" b="2" cond="1" /> },
        { color: RED, w: 1.5, label: <Arrow a="2" b="1" cond="2" /> },
      ]} />

      {/* Panel D text */}
      <Tx x={cx[0]} y={943} size={TITLE_SIZE} bold>Causality (Ground truth)</Tx>
      <Tx x={cx[1]} y={943} size={TITLE_SIZE} bold>Causality (single-time)</Tx>
      <Tx x={cx[2]} y={943} size={TITLE_SIZE} bold>Causality (local peak)</Tx>
      {ylx.map((x, i) => <Tx key={'te' + i} x={x} y={1010} rotate>TE</Tx>)}
      {ylx.map((x, i) => <Tx key={'dcs' + i} x={x} y={1162} rotate>DCS</Tx>)}
      {ylx.map((x, i) => <Tx key={'rdcs' + i} x={x} y={1314} rotate>rDCS</Tx>)}
      {cx.map((x, i) => <Tx key={'dx' + i} x={x} y={1396}><PeriLabel /></Tx>)}
      <Leg x={272} y={1273} dy={17} size={12} items={[
        { color: BLUE, w: 1.5, label: <Arrow a="1" b="2" /> },
        { color: RED, w: 1.5, label: <Arrow a="2" b="1" /> },
      ]} />
      <Leg x={872} y={1273} dy={17} size={12} items={[
        { color: BLUE, w: 1.5, label: <Arrow a="1" b="2" cond="1" /> },
        { color: RED, w: 1.5, label: <Arrow a="2" b="1" cond="2" /> },
      ]} />
    </div>
  );
}
